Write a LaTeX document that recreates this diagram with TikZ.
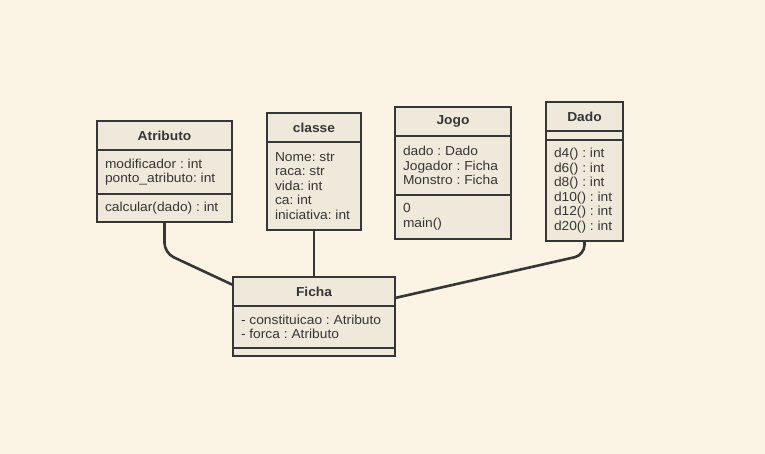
\documentclass[tikz,border=0pt]{standalone}
\usepackage{fontspec}
\setmainfont{Liberation Sans}[FakeStretch=1.06]
\usetikzlibrary{calc}
\usetikzlibrary{positioning}
\definecolor{paper}{HTML}{FBF3E3}
\definecolor{boxfill}{HTML}{EEE9DA}
\definecolor{ink}{HTML}{363636}
\frenchspacing
\tikzset{
	umlbox/.style={draw=ink, fill=boxfill, line width=2.6pt, outer sep=0pt, text=ink,
		font=\fontsize{13}{14.5}\selectfont},
	umlhead/.style={umlbox, anchor=north west, minimum height=29pt, inner sep=0pt,
		font=\fontsize{13}{14.5}\selectfont\bfseries},
	umlpart/.style={umlbox, inner xsep=8pt, inner ysep=0pt, align=flush left},
	umllink/.style={draw=ink, line width=2.6pt, rounded corners=10pt},
}
\begin{document}
\begin{tikzpicture}[x=1pt,y=-1pt]
	% background, same size as the screenshot
	\fill[paper] (0,0) rectangle (765,454);
	\useasboundingbox (0,0) rectangle (765,454);

	\node[umlhead, minimum width=135pt] (atributo) at (97,121) {Atributo};
	\node[umlpart, below=0pt of atributo, text width=119pt, minimum height=44pt] (atributoA)
		{modificador~:~int\\ponto\_atributo:~int};
	\node[umlpart, below=0pt of atributoA, text width=119pt, minimum height=28pt] (atributoM)
		{calcular(dado)~:~int};

	\node[umlhead, minimum width=94pt] (classe) at (267,113) {classe};
	\node[umlpart, below=0pt of classe, text width=78pt, minimum height=88pt] (classeA)
		{Nome:~str\\raca:~str\\vida:~int\\ca:~int\\iniciativa:~int};

	\node[umlhead, minimum width=116pt] (jogo) at (395,107) {Jogo};
	\node[umlpart, below=0pt of jogo, text width=100pt, minimum height=59pt] (jogoA)
		{dado~:~Dado\\Jogador~:~Ficha\\Monstro~:~Ficha};
	\node[umlpart, below=0pt of jogoA, text width=100pt, minimum height=44pt] (jogoM)
		{0\\main()};

	\node[umlhead, minimum width=77pt] (dado) at (546,102) {Dado};
	\node[umlpart, below=0pt of dado, text width=61pt, minimum height=9pt] (dadoA) {};
	\node[umlpart, below=0pt of dadoA, text width=61pt, minimum height=101pt] (dadoM)
		{d4()~:~int\\d6()~:~int\\d8()~:~int\\d10()~:~int\\d12()~:~int\\d20()~:~int};

	\node[umlhead, minimum width=162pt] (ficha) at (233,277) {Ficha};
	\node[umlpart, below=0pt of ficha, text width=146pt, minimum height=42pt] (fichaA)
		{-~constituicao~:~Atributo\\-~forca~:~Atributo};
	\node[umlpart, below=0pt of fichaA, text width=146pt, minimum height=8pt] (fichaM) {};

	% links to Ficha
	\draw[umllink] (atributoM.south) -- ++(0pt,-31pt) -- ([yshift=6.5pt]ficha.west);
	\draw[umllink] (classeA.south) -- (ficha.north);
	\draw[umllink] (dadoM.south) -- ++(0pt,-14pt) -- ([yshift=-6.5pt]ficha.east);
\end{tikzpicture}
\end{document}
